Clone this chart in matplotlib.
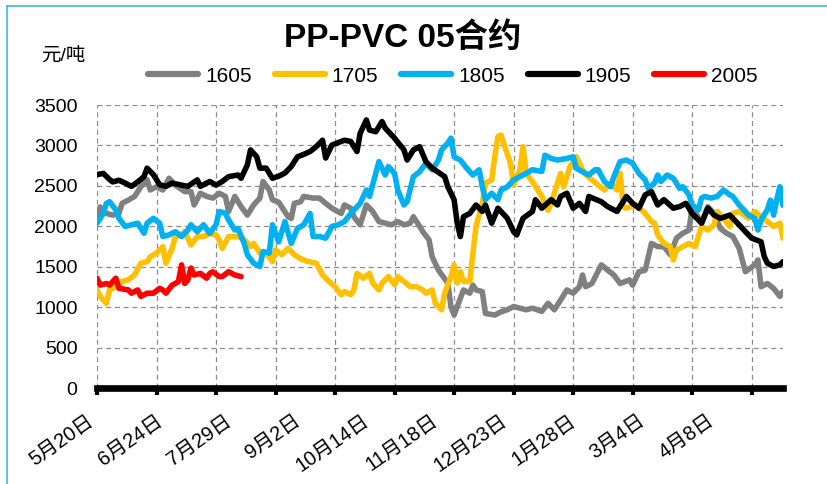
import matplotlib
matplotlib.use('Agg')
import matplotlib.pyplot as plt
from matplotlib import font_manager
from matplotlib.lines import Line2D
from matplotlib.transforms import offset_copy, blended_transform_factory

plt.rcParams['font.family'] = ['Liberation Sans', 'Noto Sans CJK SC']
plt.rcParams['axes.unicode_minus'] = False

# contract spread series, indexed by trading day from 5/20
contracts = ['1605', '1705', '1805', '1905', '2005']
colors = ['#808080', '#FFC000', '#00B0F0', '#000000', '#FF0000']

date_labels = ['5月20日', '6月24日', '7月29日', '9月2日', '10月14日',
               '11月18日', '12月23日', '1月28日', '3月4日', '4月8日']
LABEL_STEP = 22   # trading days between date labels
TICK_STEP = 19    # trading days between tick marks
N_DAYS = 220

days_1605 = [0, 1, 3, 5, 7, 8, 10, 12, 14, 16, 17, 19, 21, 23, 25, 28, 30, 31, 33, 35,
             37, 39, 41, 42, 44, 46, 48, 50, 52, 53, 55, 56, 58, 61, 62, 63, 65, 66, 69, 71,
             73, 75, 78, 79, 81, 82, 84, 86, 88, 90, 92, 94, 96, 98, 100, 101, 103, 104, 106, 107,
             109, 112, 113, 114, 115, 117, 119, 120, 121, 123, 124, 127, 129, 131, 133, 135, 137, 139, 142, 144,
             146, 148, 150, 152, 154, 155, 156, 158, 161, 163, 165, 167, 170, 171, 173, 175, 177, 179, 181, 183,
             185, 187, 189, 190, 193, 195, 197, 199, 201, 203, 205, 207, 210, 211, 212, 214, 216, 218, 219]
vals_1605 = [2100, 2240, 2160, 2140, 2160, 2285, 2325, 2370, 2490, 2575, 2450, 2490, 2450, 2595, 2510, 2430, 2430, 2265, 2410, 2370,
             2350, 2410, 2370, 2185, 2370, 2245, 2140, 2265, 2350, 2555, 2450, 2330, 2300, 2120, 2100, 2285, 2305, 2370, 2350, 2350,
             2285, 2225, 2160, 2265, 2225, 2120, 2020, 2265, 2185, 2060, 2040, 2020, 2060, 2020, 2040, 2120, 2000, 1935, 1835, 1625,
             1460, 1300, 1010, 905, 1010, 1215, 1175, 1275, 1215, 1195, 925, 905, 945, 970, 1010, 990, 970, 990, 950, 1050,
             970, 1090, 1215, 1175, 1255, 1400, 1255, 1295, 1525, 1460, 1400, 1295, 1340, 1275, 1440, 1460, 1790, 1750, 1750, 1650,
             1855, 1915, 1955, 2245, 2040, 2245, 2160, 1975, 1915, 1875, 1730, 1440, 1525, 1585, 1255, 1295, 1235, 1135, 1195]

days_1705 = [0, 1, 3, 4, 6, 8, 10, 12, 14, 16, 17, 19, 21, 22, 24, 25, 27, 28, 30, 32,
             34, 36, 38, 39, 40, 42, 45, 47, 49, 50, 52, 54, 56, 57, 59, 61, 63, 65, 67, 70,
             72, 74, 76, 78, 79, 81, 82, 83, 85, 87, 88, 90, 91, 93, 95, 96, 98, 100, 102, 104,
             105, 107, 108, 110, 111, 113, 114, 115, 116, 117, 119, 120, 121, 123, 124, 126, 127, 128, 129, 130,
             132, 133, 135, 136, 137, 139, 142, 144, 145, 146, 148, 149, 151, 153, 155, 156, 158, 160, 162, 164,
             166, 167, 168, 169, 172, 175, 177, 178, 179, 181, 183, 184, 185, 187, 189, 191, 193, 195, 197, 198,
             200, 202, 203, 205, 208, 210, 212, 214, 216, 218, 219]
vals_1705 = [1215, 1135, 1050, 1215, 1255, 1320, 1340, 1400, 1545, 1565, 1625, 1670, 1750, 1545, 1730, 1875, 1895, 1935, 1770, 1875,
             1875, 1915, 1895, 1835, 1730, 1875, 1875, 1835, 1750, 1790, 1670, 1670, 1565, 1710, 1650, 1730, 1650, 1600, 1570, 1545,
             1400, 1320, 1255, 1155, 1195, 1155, 1215, 1420, 1360, 1420, 1300, 1215, 1300, 1380, 1280, 1380, 1320, 1255, 1255, 1215,
             1175, 1215, 1050, 970, 1175, 1380, 1525, 1300, 1440, 1320, 1320, 1670, 2000, 2285, 2535, 2575, 2860, 3110, 3130, 3005,
             2780, 2510, 2700, 2985, 2655, 2555, 2370, 2200, 2290, 2410, 2655, 2490, 2740, 2860, 2700, 2640, 2575, 2510, 2450, 2535,
             2450, 2655, 2245, 2225, 2265, 2160, 2060, 2040, 1895, 1790, 1750, 1585, 1710, 1750, 1790, 1750, 2000, 1955, 2020, 2185,
             2100, 2000, 2160, 2185, 2100, 2185, 2120, 2060, 2000, 2040, 1855]

days_1805 = [0, 2, 3, 4, 6, 7, 9, 11, 13, 15, 16, 18, 20, 21, 23, 25, 27, 29, 30, 32,
             34, 36, 38, 39, 41, 42, 44, 45, 47, 48, 50, 52, 53, 55, 56, 58, 60, 62, 64, 66,
             68, 69, 71, 73, 75, 77, 79, 81, 84, 86, 87, 89, 90, 92, 93, 95, 96, 98, 99, 101,
             103, 105, 107, 109, 110, 112, 113, 114, 116, 118, 120, 122, 123, 124, 126, 128, 129, 131, 133, 135,
             137, 139, 142, 143, 145, 147, 150, 152, 153, 155, 157, 159, 160, 162, 164, 165, 167, 169, 171, 173,
             175, 176, 178, 179, 180, 182, 184, 186, 187, 189, 190, 192, 193, 194, 196, 198, 200, 202, 203, 205,
             206, 208, 210, 211, 212, 214, 215, 216, 217, 218, 219]
vals_1805 = [2040, 2160, 2285, 2305, 2205, 2100, 2000, 2020, 2040, 1915, 2040, 2100, 2040, 1875, 1895, 1935, 1875, 1955, 2020, 1935,
             2020, 1915, 2020, 2185, 2160, 2080, 1955, 1975, 1790, 1650, 1545, 1505, 1690, 1670, 2020, 1810, 2060, 1790, 1975, 2020,
             2160, 1875, 1875, 1855, 2000, 2020, 2060, 2160, 2285, 2450, 2370, 2655, 2800, 2635, 2740, 2655, 2450, 2265, 2305, 2615,
             2675, 2780, 2700, 2820, 2945, 3030, 3090, 2860, 2820, 2720, 2635, 2700, 2490, 2330, 2410, 2330, 2450, 2490, 2575, 2615,
             2655, 2700, 2680, 2880, 2840, 2820, 2840, 2860, 2720, 2675, 2635, 2700, 2700, 2555, 2490, 2615, 2800, 2820, 2780, 2655,
             2575, 2470, 2535, 2635, 2555, 2635, 2595, 2470, 2490, 2390, 2265, 2205, 2350, 2370, 2350, 2370, 2450, 2390, 2370, 2265,
             2225, 2140, 2100, 1955, 2080, 2205, 2325, 2140, 2330, 2490, 2260]

days_1905 = [0, 2, 4, 5, 7, 9, 11, 13, 15, 16, 18, 20, 22, 24, 27, 29, 32, 33, 36, 38,
             40, 42, 45, 46, 48, 49, 51, 52, 54, 56, 58, 60, 62, 64, 66, 68, 70, 72, 73, 75,
             79, 81, 83, 84, 86, 87, 89, 91, 92, 95, 98, 99, 101, 103, 105, 107, 111, 112, 114, 115,
             116, 117, 119, 121, 123, 124, 126, 128, 131, 133, 134, 136, 139, 140, 142, 145, 147, 148, 150, 152,
             154, 156, 157, 161, 163, 166, 169, 171, 173, 175, 177, 179, 181, 184, 186, 188, 190, 193, 195, 197,
             199, 202, 205, 207, 209, 212, 213, 214, 216, 218, 219]
vals_1905 = [2640, 2655, 2580, 2550, 2570, 2535, 2495, 2550, 2615, 2720, 2640, 2515, 2495, 2535, 2510, 2495, 2575, 2495, 2555, 2510,
             2555, 2615, 2635, 2595, 2760, 2945, 2860, 2720, 2720, 2595, 2620, 2660, 2740, 2860, 2890, 2925, 2985, 3065, 2845, 3005,
             3065, 3050, 2925, 3150, 3315, 3190, 3170, 3295, 3215, 3090, 2945, 2820, 2945, 2985, 2800, 2720, 2615, 2490, 2330, 2040,
             1875, 2120, 2160, 2265, 2185, 2265, 2040, 2225, 2100, 1935, 1895, 2100, 2185, 2330, 2225, 2330, 2265, 2370, 2410, 2225,
             2285, 2185, 2370, 2305, 2245, 2185, 2370, 2285, 2225, 2390, 2430, 2265, 2330, 2225, 2245, 2285, 2160, 2040, 2225, 2140,
             2100, 2140, 2020, 1935, 1855, 1810, 1630, 1545, 1505, 1525, 1565]

days_2005 = [0, 1, 3, 4, 6, 7, 10, 11, 13, 14, 16, 18, 20, 21, 22, 24, 25, 26, 27, 28,
             29, 30, 31, 33, 35, 36, 37, 39, 40, 42, 44, 46]
vals_2005 = [1360, 1275, 1295, 1275, 1360, 1235, 1215, 1175, 1215, 1135, 1175, 1175, 1235, 1215, 1175, 1275, 1295, 1320, 1525, 1295,
             1340, 1485, 1400, 1420, 1360, 1420, 1440, 1380, 1380, 1440, 1400, 1380]

series = [(days_1605, vals_1605), (days_1705, vals_1705), (days_1805, vals_1805),
          (days_1905, vals_1905), (days_2005, vals_2005)]

# narrow face for the legend if the system has one
installed = {f.name for f in font_manager.fontManager.ttflist}
if 'Liberation Sans Narrow' in installed:
    legend_font = dict(family=['Liberation Sans Narrow', 'Noto Sans CJK SC'], size=17)
    leg_kw = dict(handlelength=2.12, handletextpad=0.3, columnspacing=0.97)
else:
    legend_font = dict(family=['Liberation Sans', 'Noto Sans CJK SC'], size=15)
    leg_kw = dict(handlelength=2.4, handletextpad=0.34, columnspacing=1.1)

fig = plt.figure(figsize=(8.28, 4.84), dpi=100)
ax = fig.add_axes([97 / 828, 1 - 388.3 / 484, 686 / 828, 283.3 / 484])

for (days, vals), name, c in zip(series, contracts, colors):
    ax.plot(days, vals, color=c, lw=4.0, label=name,
            solid_joinstyle='round', solid_capstyle='round', zorder=3)

ax.set_xlim(0, N_DAYS - 1)
ax.set_ylim(0, 3500)
ax.set_yticks(range(0, 3501, 500))
ax.set_xticks(range(0, N_DAYS, TICK_STEP))
ax.set_xticklabels([])
ax.tick_params(axis='y', length=0, pad=14, labelsize=14)
ax.tick_params(axis='x', direction='out', length=5, width=3, color='black')
ax.grid(True, color='#8c8c8c', linestyle=(0, (4, 3)), linewidth=0.9)
ax.set_axisbelow(True)

for side in ['top', 'right', 'left']:
    ax.spines[side].set_visible(False)
ax.spines['bottom'].set_linewidth(4.8)
ax.spines['bottom'].set_zorder(4)

# date labels every LABEL_STEP trading days, slanted below the axis
trans = blended_transform_factory(ax.transData, ax.transAxes)
trans = offset_copy(trans, fig=fig, x=-11, y=-23, units='dots')
for k, lab in enumerate(date_labels):
    ax.text(k * LABEL_STEP, 0, lab, transform=trans, rotation=35,
            rotation_mode='anchor', ha='right', va='top', fontsize=14.5)

fig.text(403 / 828, 1 - 47 / 484, 'PP-PVC 05合约', ha='center', va='baseline',
         fontsize=24, fontweight='bold')
fig.text(63 / 828, 1 - 56 / 484, '元/吨', ha='center', va='center', fontsize=14)

handles = [Line2D([], [], color=c, lw=4.5, solid_capstyle='round') for c in colors]
fig.legend(handles, contracts, loc='center', bbox_to_anchor=(453 / 828, 1 - 76 / 484),
           ncol=5, frameon=False, prop=legend_font, **leg_kw)

# frame edges of the chart area
edge = '#3DB8F0'
fig.add_artist(Line2D([7 / 828, 7 / 828], [0, 1 - 6 / 484], color=edge, lw=1.2,
                      transform=fig.transFigure))
fig.add_artist(Line2D([7 / 828, 1], [1 - 6 / 484, 1 - 6 / 484], color=edge, lw=1.2,
                      transform=fig.transFigure))

fig.savefig('out.png', dpi=100, facecolor='white')
